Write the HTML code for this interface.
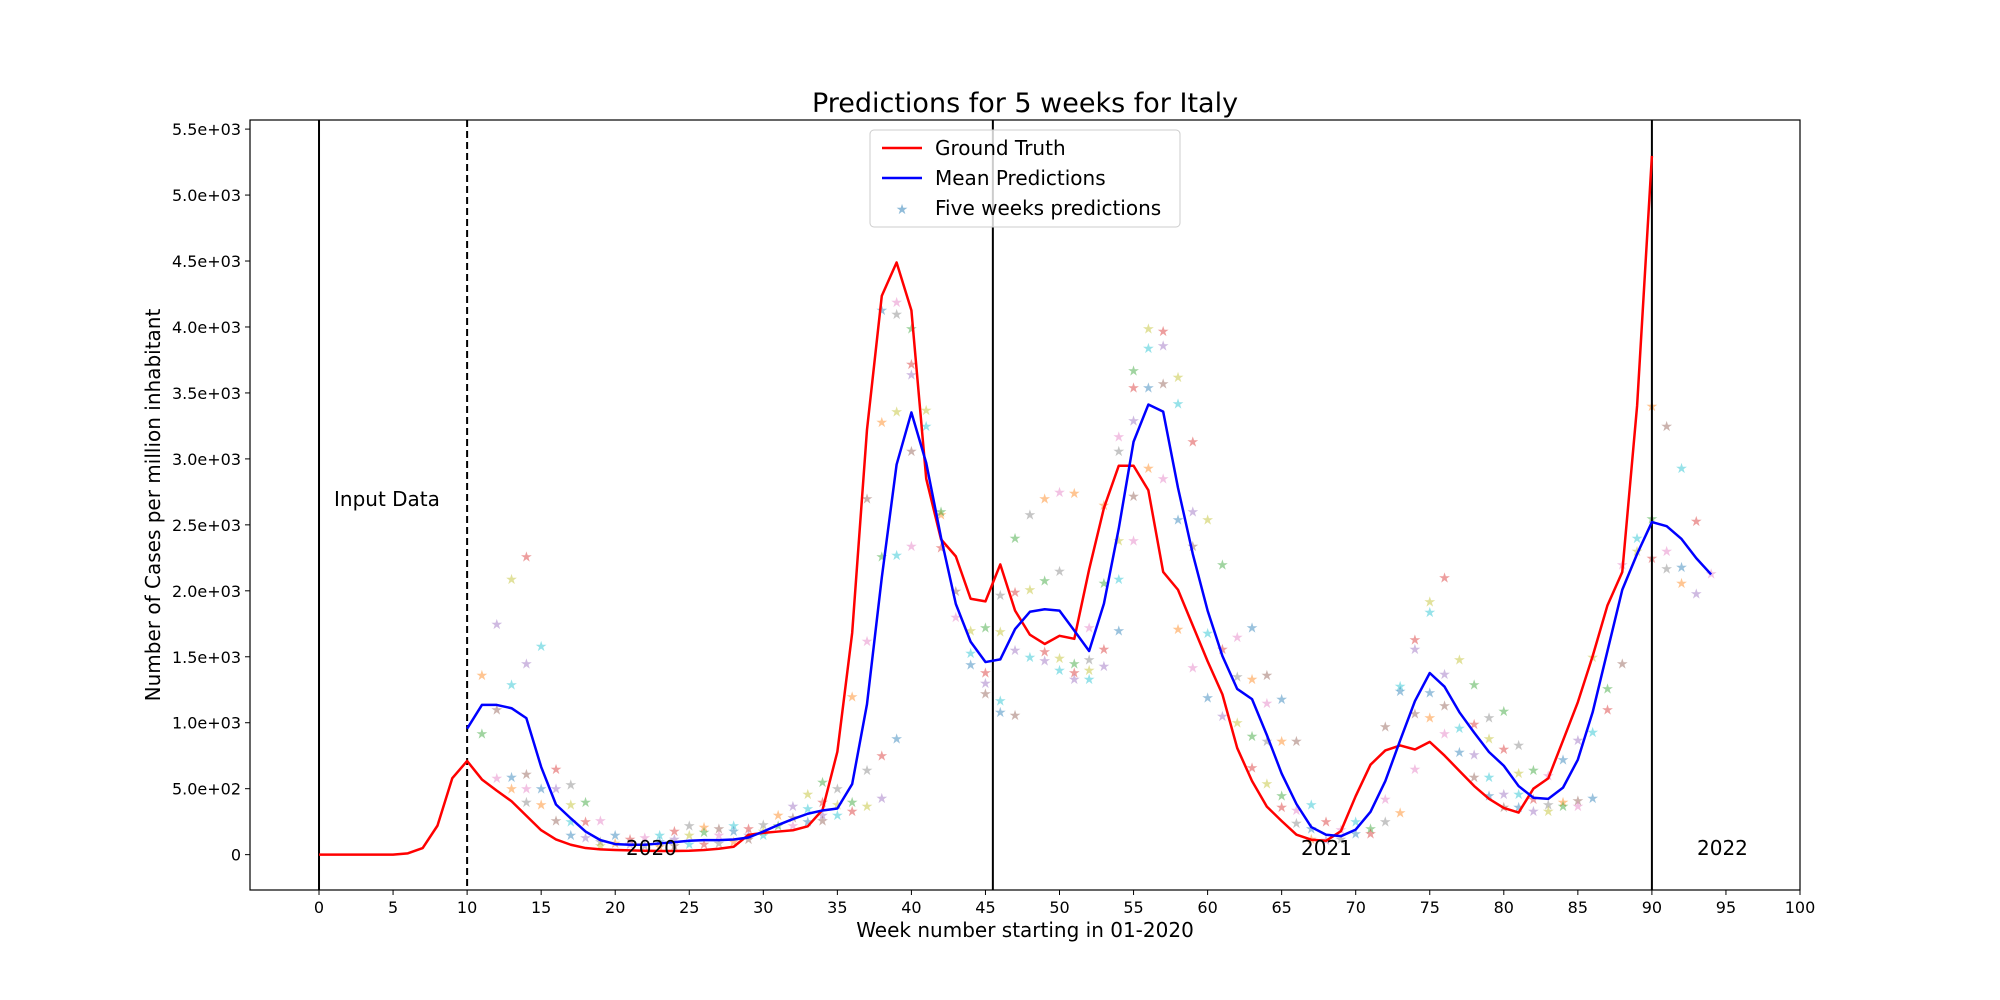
<!DOCTYPE html>
<html><head><meta charset="utf-8"><style>
body{margin:0;background:#fff}
svg{display:block;font-family:"DejaVu Sans","Liberation Sans",sans-serif}
</style></head><body>
<svg id="chart" width="2000" height="1000" viewBox="0 0 2000 1000" xmlns="http://www.w3.org/2000/svg">
<rect width="2000" height="1000" fill="#fff"/>
<text x="1025" y="112" font-size="27" text-anchor="middle">Predictions for 5 weeks for Italy</text>
<g id="plot"></g>
<text x="1025" y="937" font-size="20" text-anchor="middle">Week number starting in 01-2020</text>
<text transform="translate(160,505) rotate(-90)" font-size="20" text-anchor="middle">Number of Cases per million inhabitant</text>
<text x="334" y="506" font-size="20">Input Data</text>
<text x="626" y="855" font-size="20">2020</text>
<text x="1301" y="855" font-size="20">2021</text>
<text x="1697" y="855" font-size="20">2022</text>
<g>
<rect x="870" y="130" width="310" height="97" rx="4" fill="#fff" fill-opacity="0.8" stroke="#ccc"/>
<line x1="882" y1="148" x2="922" y2="148" stroke="red" stroke-width="2.5"/>
<text x="935" y="155" font-size="20">Ground Truth</text>
<line x1="882" y1="178" x2="922" y2="178" stroke="blue" stroke-width="2.5"/>
<text x="935" y="185" font-size="20">Mean Predictions</text>
<text x="902" y="214" font-size="14" text-anchor="middle" fill="#1f77b4" fill-opacity="0.5">★</text>
<text x="935" y="215" font-size="20">Five weeks predictions</text>
</g>
</svg>
<script>
const gtWeeks = [0,1,2,3,4,5,6,7,8,9,10,11,12,13,14,15,16,17,18,19,20,21,22,23,24,25,26,27,28,29,30,31,32,33,34,35,36,37,38,39,40,41,42,43,44,45,46,47,48,49,50,51,52,53,54,55,56,57,58,59,60,61,62,63,64,65,66,67,68,69,70,71,72,73,74,75,76,77,78,79,80,81,82,83,84,85,86,87,88,89,90];
const gtValues = [0,0,0,0,0,0,10,50,220,580,710,570,485,405,295,185,115,75,50,40,35,32,30,28,28,30,35,45,60,150,165,175,185,215,340,780,1680,3220,4236,4489,4126,2850,2390,2261,1940,1920,2200,1850,1667,1597,1659,1636,2162,2628,2948,2948,2762,2143,2008,1737,1466,1215,808,558,364,255,151,113,105,178,444,682,790,828,797,855,751,635,520,423,354,319,500,578,866,1156,1505,1890,2143,3401,5297];
const meanWeeks = [10,11,12,13,14,15,16,17,18,19,20,21,22,23,24,25,26,27,28,29,30,31,32,33,34,35,36,37,38,39,40,41,42,43,44,45,46,47,48,49,50,51,52,53,54,55,56,57,58,59,60,61,62,63,64,65,66,67,68,69,70,71,72,73,74,75,76,77,78,79,80,81,82,83,84,85,86,87,88,89,90,91,92,93,94];
const meanValues = [955,1135,1135,1110,1035,665,380,275,175,110,80,75,75,85,95,105,110,110,115,130,175,225,270,310,335,350,535,1140,2100,2957,3352,2970,2404,1900,1614,1460,1480,1710,1841,1860,1850,1698,1544,1903,2472,3130,3412,3358,2781,2279,1850,1506,1256,1179,907,615,384,209,151,140,190,325,558,866,1164,1377,1273,1080,925,778,674,520,431,423,508,720,1080,1544,2008,2279,2521,2490,2393,2247,2124];
const starWeeks = [11,11,12,12,12,13,13,13,13,14,14,14,14,14,15,15,15,16,16,16,17,17,17,17,18,18,18,19,19,19,20,20,21,21,22,22,23,23,23,24,24,24,25,25,25,26,26,26,27,27,27,28,28,28,29,29,29,30,30,30,31,31,32,32,32,33,33,33,34,34,34,34,35,35,35,36,36,36,37,37,37,37,38,38,38,38,38,39,39,39,39,39,40,40,40,40,40,41,41,42,42,42,43,43,44,44,44,45,45,45,45,46,46,46,46,47,47,47,47,48,48,48,49,49,49,49,50,50,50,50,51,51,51,51,52,52,52,52,53,53,53,53,54,54,54,54,54,55,55,55,55,55,56,56,56,56,57,57,57,57,58,58,58,58,59,59,59,59,60,60,60,61,61,61,62,62,62,63,63,63,63,64,64,64,64,65,65,65,65,66,66,66,67,67,67,68,68,69,69,70,70,71,71,72,72,72,73,73,73,74,74,74,74,75,75,75,75,76,76,76,76,77,77,77,78,78,78,78,79,79,79,79,80,80,80,80,81,81,81,81,82,82,82,83,83,83,84,84,84,85,85,85,86,86,86,87,87,88,88,89,89,90,90,90,91,91,91,92,92,92,93,93,94];
const starValues = [1360,920,1750,1100,580,2090,1290,590,500,2260,1450,610,500,400,1580,500,380,650,500,260,530,380,250,150,400,250,130,260,100,70,150,90,120,80,130,70,150,100,60,180,120,70,220,150,80,210,170,80,200,150,90,220,180,100,200,150,120,230,180,150,300,220,370,280,220,460,350,250,550,400,300,260,500,380,300,1200,400,330,2700,1620,640,370,4130,3280,2260,750,430,4190,4100,3360,2270,880,3990,3720,3640,3060,2340,3370,3250,2580,2600,2330,2000,1800,1700,1530,1440,1720,1380,1300,1220,1970,1690,1170,1080,2400,1990,1550,1060,2580,2010,1500,2700,2080,1540,1470,2750,2150,1490,1400,2740,1450,1380,1330,1720,1480,1400,1330,2650,2060,1560,1430,3170,3060,2380,2090,1700,3670,3540,3290,2720,2380,3990,3840,3540,2930,3970,3860,3570,2850,3620,3420,2540,1710,3130,2600,2340,1420,2540,1680,1190,2200,1560,1050,1650,1350,1000,1720,1330,900,660,1360,1150,860,540,1180,860,450,360,860,340,240,380,200,120,250,110,190,120,250,160,200,160,970,420,250,1280,1240,320,1630,1560,1070,650,1920,1840,1230,1040,2100,1370,1130,920,1480,960,780,1290,990,760,590,1040,880,590,450,1090,800,460,360,830,620,460,360,640,420,330,600,380,330,720,400,370,870,410,370,1500,930,430,1260,1100,1450,2200,2300,2400,3400,2550,2250,3250,2300,2170,2930,2180,2060,2530,1980,2130];
const xTicks = [0,5,10,15,20,25,30,35,40,45,50,55,60,65,70,75,80,85,90,95,100];
const yTicks = [0,500,1000,1500,2000,2500,3000,3500,4000,4500,5000,5500];
const yTickLabels = ["0","5.0e+02","1.0e+03","1.5e+03","2.0e+03","2.5e+03","3.0e+03","3.5e+03","4.0e+03","4.5e+03","5.0e+03","5.5e+03"];
const vLines = [0,10,45.5,90];

const L=250,R=1800,T=120,B=890, XMIN=-4.66, XMAX=100, YMIN=-268, YMAX=5569;
const X=v=>L+(v-XMIN)/(XMAX-XMIN)*(R-L);
const Y=v=>B-(v-YMIN)/(YMAX-YMIN)*(B-T);
const NS="http://www.w3.org/2000/svg";
const g=document.getElementById('plot');
function mk(tag,attrs,parent){const e=document.createElementNS(NS,tag);for(const k in attrs)e.setAttribute(k,attrs[k]);(parent||g).appendChild(e);return e;}
const colors=["#1f77b4","#ff7f0e","#2ca02c","#d62728","#9467bd","#8c564b","#e377c2","#7f7f7f","#bcbd22","#17becf"];

// stars
starWeeks.forEach((w,i)=>{
  const t=mk('text',{x:X(w),y:Y(starValues[i])+5,'font-size':14,'text-anchor':'middle',fill:colors[(w+i)%10],'fill-opacity':0.45});
  t.textContent='★';
  
  
});
// vertical lines
vLines.forEach((v,i)=>{
  const ln=mk('line',{x1:X(v),x2:X(v),y1:T,y2:B,stroke:'#000','stroke-width':2});
  if(i===1)ln.setAttribute('stroke-dasharray','7,4');
  
  
});
// lines
const gt=mk('polyline',{points:gtWeeks.map((w,i)=>X(w)+','+Y(gtValues[i])).join(' '),fill:'none',stroke:'red','stroke-width':2.5,'stroke-linejoin':'round'});


const mp=mk('polyline',{points:meanWeeks.map((w,i)=>X(w)+','+Y(meanValues[i])).join(' '),fill:'none',stroke:'blue','stroke-width':2.5,'stroke-linejoin':'round'});


// axes frame
const fr=mk('rect',{x:L,y:T,width:R-L,height:B-T,fill:'none',stroke:'#000','stroke-width':1.2});


// ticks
xTicks.forEach(v=>{
  const tk=mk('line',{x1:X(v),x2:X(v),y1:B,y2:B+5,stroke:'#000','stroke-width':1});
  
  
  const t=mk('text',{x:X(v),y:B+23,'font-size':16,'text-anchor':'middle'});
  t.textContent=v;
  
  
});
yTicks.forEach((v,i)=>{
  const tk=mk('line',{x1:L-5,x2:L,y1:Y(v),y2:Y(v),stroke:'#000','stroke-width':1});
  
  
  const t=mk('text',{x:L-9,y:Y(v)+6,'font-size':16,'text-anchor':'end'});
  t.textContent=yTickLabels[i];
  
  
});
</script>
</body></html>
